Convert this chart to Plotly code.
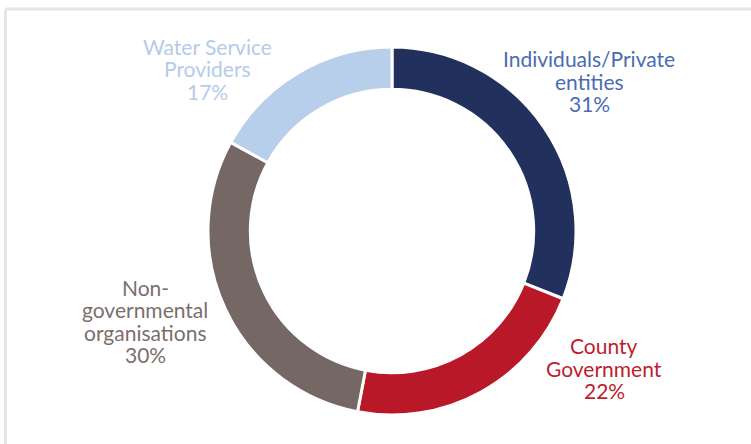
import plotly.graph_objects as go

# Funding sources (share of total, %)
categories = ["Individuals/Private entities", "County Government",
              "Non-governmental organisations", "Water Service Providers"]
shares = [31, 22, 30, 17]
label_lines = [["Individuals/Private", "entities"],
               ["County", "Government"],
               ["Non-", "governmental", "organisations"],
               ["Water Service", "Providers"]]
slice_colors = ["#22305e", "#b91828", "#746764", "#b8cfeb"]
text_colors = ["#4a6cb4", "#bc1e2e", "#7a6f6c", "#b4cbe9"]

W, H = 751, 444
FONT = "Lato"
FS = 21
LINE_H = 22.5

fig = go.Figure(go.Pie(
    labels=categories,
    values=shares,
    hole=0.77,
    sort=False,
    direction="clockwise",
    rotation=0,
    marker=dict(colors=slice_colors, line=dict(color="white", width=3)),
    textinfo="none",
    hoverinfo="label+percent",
    showlegend=False,
    domain=dict(x=[208 / W, 576 / W], y=[(H - 415) / H, (H - 47) / H]),
))

# label block centres (pixels from top-left)
label_centres = [(589, 81), (604, 368), (145, 321), (207, 69)]

annotations = []
for lines, share, colour, (cx, cy) in zip(label_lines, shares, text_colors, label_centres):
    rows = lines + [f"{share}%"]
    top = cy - (len(rows) - 1) * LINE_H / 2
    for i, row in enumerate(rows):
        y = top + i * LINE_H
        annotations.append(dict(
            x=cx / W, y=1 - y / H, xref="paper", yref="paper",
            text=row, showarrow=False, xanchor="center", yanchor="middle",
            font=dict(family=FONT, size=FS, color=colour),
        ))

# light frame along top and left edges
shapes = [
    dict(type="line", xref="paper", yref="paper",
         x0=5.5 / W, x1=1.01, y0=1 - 9 / H, y1=1 - 9 / H,
         line=dict(color="#e6e6e6", width=3)),
    dict(type="line", xref="paper", yref="paper",
         x0=5.5 / W, x1=5.5 / W, y0=1 - 9 / H, y1=-0.01,
         line=dict(color="#e6e6e6", width=3)),
]

fig.update_layout(
    width=W, height=H,
    margin=dict(l=0, r=0, t=0, b=0),
    paper_bgcolor="white", plot_bgcolor="white",
    annotations=annotations, shapes=shapes,
)

fig.write_html("out.html")
